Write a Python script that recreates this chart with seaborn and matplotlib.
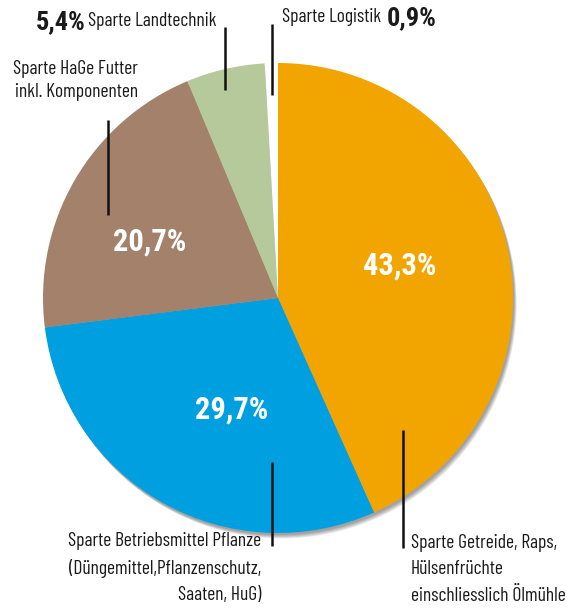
import matplotlib.pyplot as plt
from matplotlib.patches import Circle
import seaborn as sns

# --- Data ---
sparten = [
    'Sparte Getreide, Raps,\nHülsenfrüchte\neinschliesslich Ölmühle',
    'Sparte Betriebsmittel Pflanze\n(Düngemittel,Pflanzenschutz,\nSaaten, HuG)',
    'Sparte HaGe Futter\ninkl. Komponenten',
    'Sparte Landtechnik',
    'Sparte Logistik',
]
anteile = [43.3, 29.7, 20.7, 5.4, 0.9]
anteil_labels = ['43,3%', '29,7%', '20,7%', '5,4%', '0,9%']
farben = ['#F2A500', '#009FE0', '#A4816A', '#B5C99A', '#FFFFFF']

sns.set_theme(style='white')
plt.rcParams['font.family'] = ['Roboto Condensed', 'Archivo Narrow', 'DejaVu Sans']
label_font = ['Barlow Condensed', 'Roboto Condensed', 'DejaVu Sans']

W, H = 576, 612
fig = plt.figure(figsize=(W / 100, H / 100), dpi=100)
ax = fig.add_axes([0, 0, 1, 1])


def y(v):
    # image pixel row -> data y
    return H - v


cx, cy, r = 278, y(298), 235

# soft drop shadow towards the lower right
for k in range(6):
    ax.add_patch(Circle((cx + 1.2 + k * 0.5, cy - 2.0 - k * 0.7), r,
                        color='black', alpha=0.07, lw=0, zorder=0))

ax.pie(anteile, colors=farben, startangle=90, counterclock=False,
       center=(cx, cy), radius=r, frame=True,
       wedgeprops=dict(linewidth=0, zorder=1))
ax.set_xlim(0, W)
ax.set_ylim(0, H)
ax.set_aspect('equal')
ax.axis('off')

# percentages inside the big slices
inner = {0: (400, 266), 1: (232, 410), 2: (150, 242)}
for i, (px, py) in inner.items():
    ax.text(px, y(py), anteil_labels[i], color='white', fontsize=22,
            fontweight='bold', ha='center', va='center', zorder=3)

# leader lines
lk = dict(color='#111111', lw=1.8, solid_capstyle='butt', zorder=3)
ax.plot([403, 403], [y(430), y(548)], **lk)
ax.plot([272, 272], [y(462), y(546)], **lk)
ax.plot([108, 108], [y(120), y(215)], **lk)
ax.plot([225, 225], [y(27), y(90)], **lk)
ax.plot([272, 272], [y(24), y(95)], **lk)

fs = 14
tc = '#1a1a1a'
lab = dict(fontsize=fs, color=tc, family=label_font)
# outside labels
ax.text(411, y(534), sparten[0], ha='left', va='top', linespacing=1.6, **lab)
ax.text(261, y(532), sparten[1], ha='right', va='top', linespacing=1.6,
        multialignment='right', **lab)
ax.text(138, y(60), sparten[2], ha='right', va='top', linespacing=1.35,
        multialignment='right', **lab)

ax.text(86, y(22), anteil_labels[3], fontsize=19, fontweight='bold',
        color=tc, ha='right', va='center')
ax.text(88, y(21), sparten[3], ha='left', va='center', **lab)
ax.text(282, y(17), sparten[4], ha='left', va='center', **lab)
ax.text(387, y(18), anteil_labels[4], fontsize=19, fontweight='bold',
        color=tc, ha='left', va='center')

fig.savefig('out.png', dpi=100)
